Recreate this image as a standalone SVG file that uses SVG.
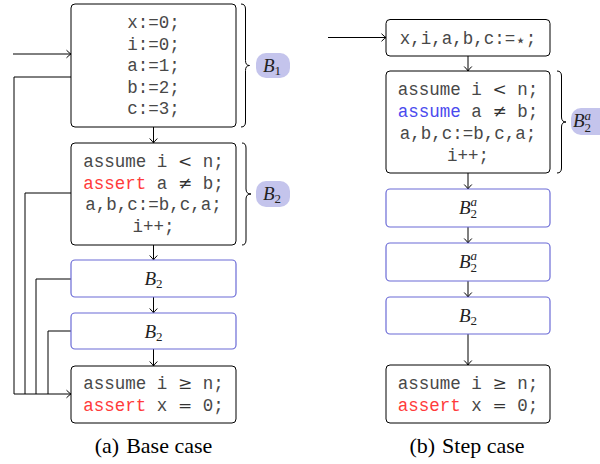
<svg xmlns="http://www.w3.org/2000/svg" width="600" height="464" viewBox="0 0 600 464">
<defs>
<style>
.box{fill:#fff;stroke:#000;stroke-width:1}
.bbox{fill:#fff;stroke:#6b6bd6;stroke-width:1.2}
.mono{font-family:"Liberation Mono","DejaVu Sans Mono",monospace;font-size:17.5px;fill:#484848;text-anchor:middle}
.sym{font-family:"DejaVu Serif","Liberation Serif",serif;font-size:17px;fill:#333}
.red{fill:#ff3b3b}
.blue{fill:#4a4aee}
.lab{font-family:"Liberation Serif","DejaVu Serif",serif;font-style:italic;font-size:19px;fill:#222;text-anchor:middle}
.sub{font-style:normal;font-size:13px}
.sup{font-style:italic;font-size:13px}
.cap{font-family:"Liberation Serif","Times New Roman",serif;font-size:22px;fill:#000;text-anchor:middle}
.pill{fill:#c4c4ec}
.ln{fill:none;stroke:#000;stroke-width:1}
.brace{fill:none;stroke:#000;stroke-width:1}
</style>
<marker id="arr" viewBox="-6 -5 7 10" markerWidth="7" markerHeight="10" refX="0" refY="0" orient="auto" markerUnits="userSpaceOnUse">
<path d="M-4.5,-3.8 Q-1.5,-0.8 0,0 Q-1.5,0.8 -4.5,3.8" fill="none" stroke="#000" stroke-width="1"/>
</marker>
</defs>

<g id="connectors">
<path class="ln" d="M13,54 H71" marker-end="url(#arr)"/>
<path class="ln" d="M153.5,127 V143" marker-end="url(#arr)"/>
<path class="ln" d="M153.5,245 V260" marker-end="url(#arr)"/>
<path class="ln" d="M153.5,297 V313" marker-end="url(#arr)"/>
<path class="ln" d="M153.5,349 V366" marker-end="url(#arr)"/>
<path class="ln" d="M71,77 H14 V394"/>
<path class="ln" d="M71,193 H25 V394"/>
<path class="ln" d="M71,279 H36 V394"/>
<path class="ln" d="M71,331 H48 V394"/>
<path class="ln" d="M14,394 H71" marker-end="url(#arr)"/>
<path class="ln" d="M328,37.5 H386" marker-end="url(#arr)"/>
<path class="ln" d="M468,56 V71" marker-end="url(#arr)"/>
<path class="ln" d="M468,173 V189" marker-end="url(#arr)"/>
<path class="ln" d="M468,227 V243" marker-end="url(#arr)"/>
<path class="ln" d="M468,281 V297" marker-end="url(#arr)"/>
<path class="ln" d="M468,334 V365" marker-end="url(#arr)"/>
</g>

<g id="B1">
<rect class="box" x="71" y="4" width="165" height="123" rx="4"/>
<text class="mono" x="153.5" y="28">x:=0;</text>
<text class="mono" x="153.5" y="49.5">i:=0;</text>
<text class="mono" x="153.5" y="71">a:=1;</text>
<text class="mono" x="153.5" y="92.5">b:=2;</text>
<text class="mono" x="153.5" y="114">c:=3;</text>
</g>
<g id="B1-brace">
<path class="brace" d="M241,4 Q245.5,4 245.5,9 V60.5 Q245.5,65.5 249.5,65.5 Q245.5,65.5 245.5,70.5 V122 Q245.5,127 241,127"/>
<rect class="pill" x="256" y="53" width="34" height="25" rx="10"/>
<text class="lab" x="272" y="72">B<tspan class="sub" dy="3">1</tspan></text>
</g>

<g id="B2">
<rect class="box" x="71" y="143" width="165" height="102" rx="4"/>
<text class="mono" x="153.5" y="167">assume i <tspan class="sym">&lt;</tspan> n;</text>
<text class="mono" x="153.5" y="188.5"><tspan class="red">assert</tspan> a <tspan class="sym">≠</tspan> b;</text>
<text class="mono" x="153.5" y="210">a,b,c:=b,c,a;</text>
<text class="mono" x="153.5" y="231.5">i++;</text>
</g>
<g id="B2-brace">
<path class="brace" d="M242,143 Q246,143 246,148 V189 Q246,194 251,194 Q246,194 246,199 V240 Q246,245 242,245"/>
<rect class="pill" x="256" y="181" width="34" height="26" rx="10"/>
<text class="lab" x="272" y="200">B<tspan class="sub" dy="3">2</tspan></text>
</g>

<g id="B2-copy1">
<rect class="bbox" x="71" y="260" width="165" height="37" rx="4"/>
<text class="lab" x="153.5" y="285">B<tspan class="sub" dy="3">2</tspan></text>
</g>
<g id="B2-copy2">
<rect class="bbox" x="71" y="313" width="165" height="36" rx="4"/>
<text class="lab" x="153.5" y="337.5">B<tspan class="sub" dy="3">2</tspan></text>
</g>
<g id="B3">
<rect class="box" x="71" y="366" width="165" height="57" rx="4"/>
<text class="mono" x="153.5" y="388.5">assume i <tspan class="sym">≥</tspan> n;</text>
<text class="mono" x="153.5" y="410.5"><tspan class="red">assert</tspan> x <tspan class="sym">=</tspan> 0;</text>
</g>
<text class="cap" x="153.5" y="453">(a)<tspan dx="7">Base case</tspan></text>

<g id="R-init">
<rect class="box" x="386" y="19.5" width="164" height="36.5" rx="4"/>
<text class="mono" x="468" y="43.5">x,i,a,b,c:=<tspan font-family="DejaVu Sans" font-size="17px" dy="2">⋆</tspan><tspan dy="-2">;</tspan></text>
</g>
<g id="R-B2a">
<rect class="box" x="386" y="71" width="164" height="102" rx="4"/>
<text class="mono" x="468" y="95">assume i <tspan class="sym">&lt;</tspan> n;</text>
<text class="mono" x="468" y="116.5"><tspan class="blue">assume</tspan> a <tspan class="sym">≠</tspan> b;</text>
<text class="mono" x="468" y="139">a,b,c:=b,c,a;</text>
<text class="mono" x="468" y="160.5">i++;</text>
</g>
<g id="R-brace">
<path class="brace" d="M557,71 Q561.5,71 561.5,76 V117 Q561.5,122 566,122 Q561.5,122 561.5,127 V168 Q561.5,173 557,173"/>
<rect class="pill" x="571" y="108" width="38" height="27" rx="10"/>
<text class="lab" x="582" y="127" text-anchor="start">B<tspan class="sub" dy="4.5">2</tspan><tspan class="sup" dx="-6.5" dy="-12">a</tspan></text>
</g>
<g id="R-copy1">
<rect class="bbox" x="386" y="189" width="164" height="38" rx="4"/>
<text class="lab" x="468" y="213.5">B<tspan class="sub" dy="4.5">2</tspan><tspan class="sup" dx="-6.5" dy="-12">a</tspan></text>
</g>
<g id="R-copy2">
<rect class="bbox" x="386" y="243" width="164" height="38" rx="4"/>
<text class="lab" x="468" y="267.5">B<tspan class="sub" dy="4.5">2</tspan><tspan class="sup" dx="-6.5" dy="-12">a</tspan></text>
</g>
<g id="R-copy3">
<rect class="bbox" x="386" y="297" width="164" height="37" rx="4"/>
<text class="lab" x="468" y="321.5">B<tspan class="sub" dy="3">2</tspan></text>
</g>
<g id="R-B3">
<rect class="box" x="386" y="365" width="164" height="58" rx="4"/>
<text class="mono" x="468" y="389">assume i <tspan class="sym">≥</tspan> n;</text>
<text class="mono" x="468" y="410.5"><tspan class="red">assert</tspan> x <tspan class="sym">=</tspan> 0;</text>
</g>
<text class="cap" x="467" y="453">(b)<tspan dx="7">Step case</tspan></text>
</svg>
